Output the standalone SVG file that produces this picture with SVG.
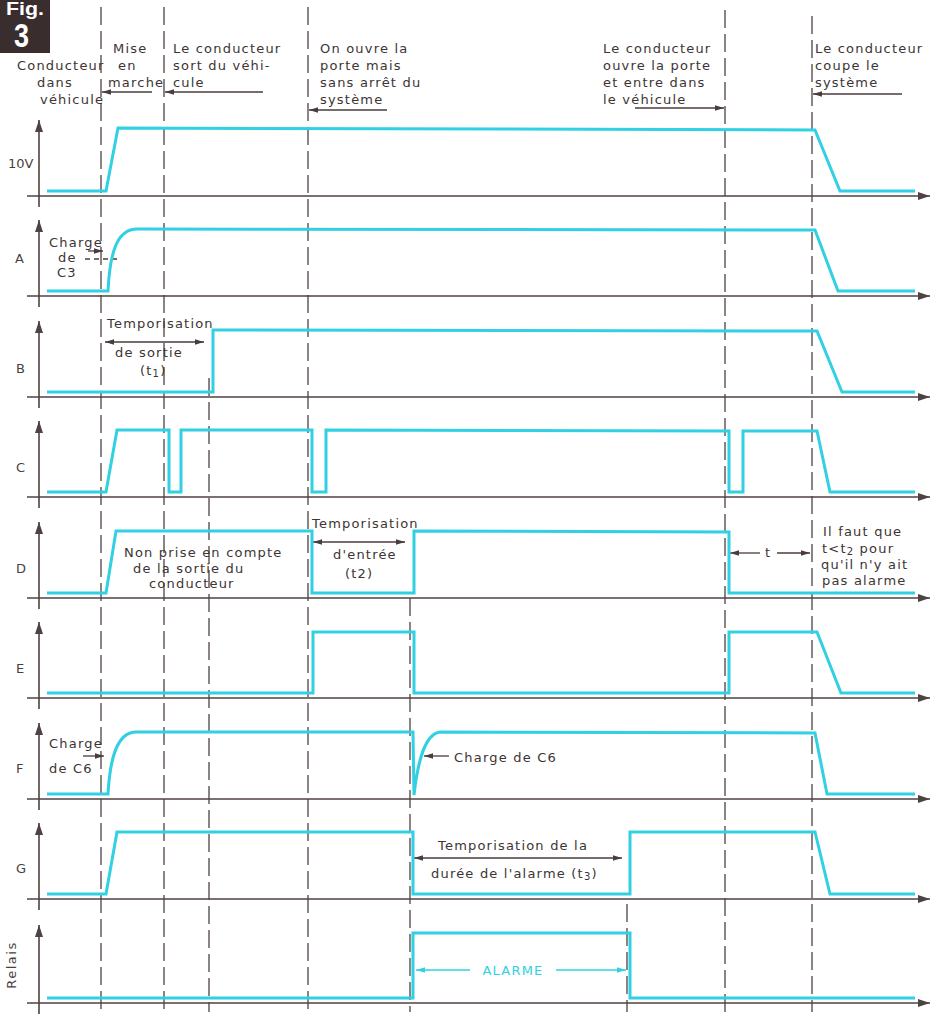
<svg xmlns="http://www.w3.org/2000/svg" width="930" height="1017" viewBox="0 0 930 1017">
<style>
.t{font-family:"DejaVu Sans",sans-serif;font-size:13px;fill:#3d3434;letter-spacing:1.2px}
.lbl{font-family:"DejaVu Sans",sans-serif;font-size:13px;fill:#4a3f3f}
.ax{stroke:#4f4242;stroke-width:1.6;fill:none}
.dash{stroke:#4f4242;stroke-width:1.3;stroke-dasharray:18 6;fill:none}
.sig{stroke:#31d0e2;stroke-width:3;fill:none;stroke-linejoin:miter}
.ann{stroke:#4a3c3c;stroke-width:1.3;fill:none}
.cy{stroke:#31d0e2;stroke-width:1.3;fill:none}
</style>
<defs>
<marker id="axh" viewBox="0 0 12 8" refX="12" refY="4" markerWidth="12" markerHeight="8" markerUnits="userSpaceOnUse" orient="auto"><path d="M0,0 L12,4 L0,8 z" fill="#4f4242"/></marker>
<marker id="ah" viewBox="0 0 10 6" refX="10" refY="3" markerWidth="9" markerHeight="6" markerUnits="userSpaceOnUse" orient="auto-start-reverse"><path d="M0,0 L10,3 L0,6 z" fill="#4a3c3c"/></marker>
<marker id="ahc" viewBox="0 0 10 6" refX="10" refY="3" markerWidth="9" markerHeight="6" markerUnits="userSpaceOnUse" orient="auto-start-reverse"><path d="M0,0 L10,3 L0,6 z" fill="#31d0e2"/></marker>
</defs>
<rect width="930" height="1017" fill="#ffffff"/>

<g id="badge">
<rect x="0" y="0" width="50" height="53" fill="#3a2d2e"/>
<text x="6" y="15" font-family="Liberation Sans,sans-serif" font-weight="bold" font-size="18" fill="#ffffff" textLength="38" lengthAdjust="spacingAndGlyphs">Fig.</text>
<text x="14" y="47" font-family="Liberation Sans,sans-serif" font-weight="bold" font-size="34" fill="#ffffff" textLength="15" lengthAdjust="spacingAndGlyphs">3</text>
</g>

<g id="markers">
<line class="dash" x1="101" y1="7" x2="101" y2="1012"/>
<line class="dash" x1="164" y1="7" x2="164" y2="1012"/>
<line class="dash" x1="209" y1="378" x2="209" y2="1012"/>
<line class="dash" x1="308" y1="7" x2="308" y2="1012"/>
<line class="dash" x1="410" y1="598" x2="410" y2="1012"/>
<line class="dash" x1="627" y1="904" x2="627" y2="1012"/>
<line class="dash" x1="725" y1="10" x2="725" y2="1012"/>
<line class="dash" x1="812" y1="16" x2="812" y2="1012"/>
</g>

<g id="axes">
<line class="ax" x1="27" y1="196" x2="930" y2="196" marker-end="url(#axh)"/>
<line class="ax" x1="27" y1="296" x2="930" y2="296" marker-end="url(#axh)"/>
<line class="ax" x1="27" y1="397" x2="930" y2="397" marker-end="url(#axh)"/>
<line class="ax" x1="27" y1="497" x2="930" y2="497" marker-end="url(#axh)"/>
<line class="ax" x1="27" y1="598" x2="930" y2="598" marker-end="url(#axh)"/>
<line class="ax" x1="27" y1="698" x2="930" y2="698" marker-end="url(#axh)"/>
<line class="ax" x1="27" y1="799" x2="930" y2="799" marker-end="url(#axh)"/>
<line class="ax" x1="27" y1="899" x2="930" y2="899" marker-end="url(#axh)"/>
<line class="ax" x1="27" y1="1003" x2="930" y2="1003" marker-end="url(#axh)"/>
<line class="ax" x1="39" y1="207" x2="39" y2="120" marker-end="url(#axh)"/>
<line class="ax" x1="39" y1="307" x2="39" y2="220" marker-end="url(#axh)"/>
<line class="ax" x1="39" y1="408" x2="39" y2="321" marker-end="url(#axh)"/>
<line class="ax" x1="39" y1="508" x2="39" y2="421" marker-end="url(#axh)"/>
<line class="ax" x1="39" y1="609" x2="39" y2="522" marker-end="url(#axh)"/>
<line class="ax" x1="39" y1="709" x2="39" y2="622" marker-end="url(#axh)"/>
<line class="ax" x1="39" y1="810" x2="39" y2="723" marker-end="url(#axh)"/>
<line class="ax" x1="39" y1="910" x2="39" y2="823" marker-end="url(#axh)"/>
<line class="ax" x1="39" y1="1014" x2="39" y2="925" marker-end="url(#axh)"/>
</g>

<g id="labels">
<text class="lbl" x="8" y="168">10V</text>
<text class="lbl" x="15" y="263">A</text>
<text class="lbl" x="16" y="373">B</text>
<text class="lbl" x="16" y="472">C</text>
<text class="lbl" x="16" y="573">D</text>
<text class="lbl" x="16" y="673">E</text>
<text class="lbl" x="16" y="773">F</text>
<text class="lbl" x="16" y="873">G</text>
<text class="lbl" x="0" y="0" text-anchor="middle" letter-spacing="1.5" transform="translate(16,965) rotate(-90)">Relais</text>
</g>

<g id="header">
<text class="t" x="17" y="70">Conducteur</text>
<text class="t" x="37" y="87">dans</text>
<text class="t" x="40" y="104">véhicule</text>
<text class="t" x="113" y="53">Mise</text>
<text class="t" x="118" y="70">en</text>
<text class="t" x="108" y="87">marche</text>
<text class="t" x="173" y="53">Le conducteur</text>
<text class="t" x="173" y="70">sort du véhi-</text>
<text class="t" x="173" y="87">cule</text>
<text class="t" x="320" y="53">On ouvre la</text>
<text class="t" x="320" y="70">porte mais</text>
<text class="t" x="320" y="87">sans arrêt du</text>
<text class="t" x="320" y="104">système</text>
<text class="t" x="603" y="53">Le conducteur</text>
<text class="t" x="603" y="70">ouvre la porte</text>
<text class="t" x="603" y="87">et entre dans</text>
<text class="t" x="603" y="104">le véhicule</text>
<text class="t" x="815" y="53">Le conducteur</text>
<text class="t" x="815" y="70">coupe le</text>
<text class="t" x="815" y="87">système</text>
</g>

<g id="connectors">
<line class="ann" x1="152" y1="92" x2="102" y2="92" marker-end="url(#ah)"/>
<line class="ann" x1="263" y1="92" x2="165" y2="92" marker-end="url(#ah)"/>
<line class="ann" x1="387" y1="110" x2="309" y2="110" marker-end="url(#ah)"/>
<line class="ann" x1="635" y1="108" x2="724" y2="108" marker-end="url(#ah)"/>
<line class="ann" x1="902" y1="94" x2="813" y2="94" marker-end="url(#ah)"/>
<line class="ann" x1="88" y1="251" x2="103" y2="251" marker-end="url(#ah)"/>
<line class="ann" x1="85" y1="259" x2="121" y2="259" stroke-dasharray="5 4"/>
<line class="ann" x1="105" y1="342" x2="204" y2="342" marker-start="url(#ah)" marker-end="url(#ah)"/>
<line class="ann" x1="313" y1="542" x2="405" y2="542" marker-start="url(#ah)" marker-end="url(#ah)"/>
<line class="ann" x1="760" y1="553" x2="730" y2="553" marker-end="url(#ah)"/>
<line class="ann" x1="777" y1="553" x2="810" y2="553" marker-end="url(#ah)"/>
<line class="ann" x1="83" y1="756" x2="104" y2="756" marker-end="url(#ah)"/>
<line class="ann" x1="449" y1="756" x2="424" y2="756" marker-end="url(#ah)"/>
<line class="ann" x1="414" y1="858" x2="622" y2="858" marker-start="url(#ah)" marker-end="url(#ah)"/>
<line class="cy" x1="470" y1="970" x2="416" y2="970" marker-end="url(#ahc)"/>
<line class="cy" x1="556" y1="970" x2="626" y2="970" marker-end="url(#ahc)"/>
</g>

<g id="signals">
<path id="s10v" class="sig" d="M47,191 L106,191 L118,128 L815,130 L840,191 L915,191"/>
<path id="sA" class="sig" d="M47,291 L108,291 C110,250 118,229 137,229 L815,230 L838,291 L915,291"/>
<path id="sB" class="sig" d="M47,392 L213,392 L213,330 L817,331 L842,392 L915,392"/>
<path id="sC" class="sig" d="M47,492 L106,492 L117,430 L169,430 L169,492 L181,492 L181,430 L312,430 L312,492 L326,492 L326,430 L729,431 L729,492 L743,492 L743,431 L817,431 L830,492 L915,492"/>
<path id="sD" class="sig" d="M47,593 L106,593 L116,531 L312,531 L312,593 L414,593 L414,531 L729,532 L729,593 L915,593"/>
<path id="sE" class="sig" d="M47,693 L313,693 L313,632 L414,632 L414,693 L729,693 L729,632 L817,632 L841,693 L915,693"/>
<path id="sF" class="sig" d="M47,794 L108,794 C110,758 117,733 135,732 L413,732 L414,795 C418,760 425,734 440,732 L815,733 L827,794 L915,794"/>
<path id="sG" class="sig" d="M47,894 L106,894 L117,832 L413,832 L413,894 L630,894 L630,832 L815,832 L830,894 L915,894"/>
<path id="sR" class="sig" d="M47,998 L413,998 L413,933 L630,933 L630,998 L915,998"/>
</g>

<g id="annotations">
<text class="t" x="49" y="247">Charge</text>
<text class="t" x="58" y="262">de</text>
<text class="t" x="57" y="277">C3</text>
<text class="t" x="107" y="328">Temporisation</text>
<text class="t" x="115" y="357">de sortie</text>
<text class="t" x="140" y="375">(t<tspan font-size="10" dy="2">1</tspan><tspan dy="-2">)</tspan></text>
<text class="t" x="124" y="557">Non prise en compte</text>
<text class="t" x="133" y="573">de la sortie du</text>
<text class="t" x="149" y="588">conducteur</text>
<text class="t" x="312" y="528">Temporisation</text>
<text class="t" x="333" y="559">d'entrée</text>
<text class="t" x="345" y="578">(t2)</text>
<text class="t" x="765" y="557">t</text>
<text class="t" x="823" y="536">Il faut que</text>
<text class="t" x="822" y="553">t&lt;t<tspan font-size="10" dy="2">2</tspan><tspan dy="-2"> pour</tspan></text>
<text class="t" x="821" y="569">qu'il n'y ait</text>
<text class="t" x="822" y="585">pas alarme</text>
<text class="t" x="49" y="748">Charge</text>
<text class="t" x="49" y="773">de C6</text>
<text class="t" x="454" y="762">Charge de C6</text>
<text class="t" x="438" y="850">Temporisation de la</text>
<text class="t" x="431" y="878">durée de l'alarme (t<tspan font-size="10" dy="2">3</tspan><tspan dy="-2">)</tspan></text>
<text class="t" x="513" y="975" text-anchor="middle" style="fill:#31d0e2">ALARME</text>
</g>
</svg>
